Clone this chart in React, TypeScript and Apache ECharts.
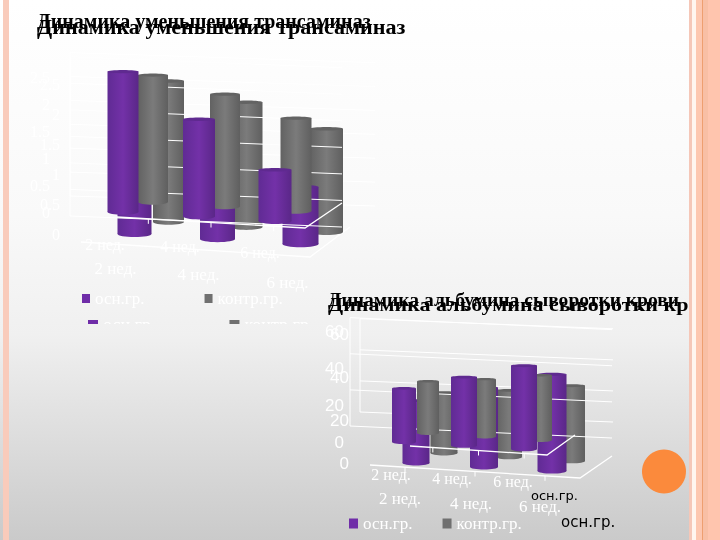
import React, { useEffect, useRef } from "react";
import * as echarts from "echarts";

const categories = ["2 нед.", "4 нед.", "6 нед."];
const seriesNames = ["осн.гр.", "контр.гр."];
const transOsn = [2.6, 1.8, 0.95];
const transKontr = [2.35, 2.08, 1.72];
const albOsn = [29, 37, 45];
const albKontr = [28, 31, 35];
const transTicks = [0, 0.5, 1, 1.5, 2, 2.5, 3];
const albTicks = [0, 20, 40, 60];
const titleTrans = "Динамика уменьшения трансаминаз";
const titleAlb = "Динамика альбумина сыворотки крови";

const SERIF = "'Liberation Serif', serif";
const SANS = "'Liberation Sans', sans-serif";

const purpleFill = () =>
  new echarts.graphic.LinearGradient(0, 0, 1, 0, [
    { offset: 0, color: "#602b94" },
    { offset: 0.5, color: "#7331a8" },
    { offset: 1, color: "#5a2788" },
  ]);
const grayFill = () =>
  new echarts.graphic.LinearGradient(0, 0, 1, 0, [
    { offset: 0, color: "#626262" },
    { offset: 0.5, color: "#7b7b7b" },
    { offset: 1, color: "#5f5f5f" },
  ]);

const copies = [
  {
    // chart 1, back copy
    grid: { left: 93, width: 249, bottom: 234, pxHeight: 180 }, max: 3, ticks: transTicks, interval: 0.5,
    osn: transOsn, kontr: transKontr, z: 3, slope: 5,
    osnW: [34, 35, 36], kontrW: [31, 32, 33], dx: [34, 29, 26], dy: -12,
    xFont: 17, xMargin: 26, xShift: [38, 38, 26], xDrop: [0, 6, 14],
    yFont: 16, yFamily: SERIF, yMargin: 33,
    wall: { x0: -23, y0: -18, x1: 249, y1: -7, scale: 0.885 },
    floor: [[24, -17], [212, -6], [249, -31]],
  },
  {
    // chart 1, front copy
    grid: { left: 85, width: 228, bottom: 212, pxHeight: 162 }, max: 3, ticks: transTicks, interval: 0.5,
    osn: transOsn, kontr: transKontr, z: 10, slope: 4.5,
    osnW: [31, 32, 33], kontrW: [30, 30, 31], dx: [30, 26, 21], dy: -10,
    xFont: 16, xMargin: 24, xShift: [36, 38, 30], xDrop: [0, 2, 8],
    yFont: 16, yFamily: SERIF, yMargin: 35,
    wall: { x0: -15, y0: -16, x1: 290, y1: -6, scale: 0.885 },
    floor: [[-4, 30], [225, 45], [265, 15]],
  },
  {
    // chart 2, back copy
    grid: { left: 382, width: 204, bottom: 463, pxHeight: 129 }, max: 60, ticks: albTicks, interval: 20,
    osn: albOsn, kontr: albKontr, z: 3, slope: 4,
    osnW: [27, 28, 29], kontrW: [27, 26, 26], dx: [28, 25, 20], dy: -10,
    xFont: 17, xMargin: 27, xShift: [32, 26, 24], xDrop: [0, 5, 8],
    yFont: 17, yFamily: SANS, yMargin: 33,
    wall: { x0: -32, y0: -37, x1: 230, y1: -25, scale: 0.84 },
    floor: [[28, -17], [165, -8], [193, -28]],
  },
  {
    // chart 2, front copy
    grid: { left: 374, width: 180, bottom: 442, pxHeight: 111 }, max: 60, ticks: albTicks, interval: 20,
    osn: albOsn, kontr: albKontr, z: 10, slope: 3.5,
    osnW: [24, 26, 26], kontrW: [22, 22, 22], dx: [24, 21, 17], dy: -9,
    xFont: 16, xMargin: 24, xShift: [26, 24, 22], xDrop: [0, 4, 7],
    yFont: 17, yFamily: SANS, yMargin: 30,
    wall: { x0: -14, y0: -30, x1: 239, y1: -20, scale: 0.84 },
    floor: [[-4, 23], [206, 36], [238, 14]],
  },
];

function cylinder(c: any, row: "osn" | "kontr") {
  return (_p: any, api: any) => {
    const i = api.value(0);
    const top = api.coord([i, api.value(1)]);
    const base = api.coord([i, 0]);
    const w = row === "osn" ? c.osnW[i] : c.kontrW[i];
    const dx = row === "osn" ? 0 : c.dx[i];
    const dy = (row === "osn" ? 0 : c.dy) + c.slope * i;
    const cx = base[0] + dx;
    const yTop = top[1] + dy;
    const yBase = base[1] + dy;
    const ry = w * 0.09;
    const fill = row === "osn" ? purpleFill() : grayFill();
    const lid = row === "osn" ? "#5f2a90" : "#636363";
    return {
      type: "group",
      children: [
        { type: "ellipse", shape: { cx, cy: yBase, rx: w / 2, ry }, style: { fill } },
        { type: "rect", shape: { x: cx - w / 2, y: yTop, width: w, height: yBase - yTop }, style: { fill } },
        { type: "ellipse", shape: { cx, cy: yTop, rx: w / 2, ry: ry * 0.6 }, style: { fill: lid } },
      ],
    };
  };
}

function wallItem(c: any) {
  return (_p: any, api: any) => {
    const left = c.grid.left;
    const bottom = c.grid.bottom;
    const base = api.coord([0, 0])[1];
    const children = c.ticks.map((t: number) => {
      const off = (api.coord([0, t])[1] - base) * c.wall.scale;
      return {
        type: "line",
        shape: {
          x1: left + c.wall.x0,
          y1: bottom + c.wall.y0 + off,
          x2: left + c.wall.x1,
          y2: bottom + c.wall.y1 + off,
        },
        style: { stroke: "#ffffff", lineWidth: 1 },
      };
    });
    const topOff = (api.coord([0, c.max])[1] - base) * c.wall.scale;
    children.push({
      type: "line",
      shape: {
        x1: left + c.wall.x0,
        y1: bottom + c.wall.y0,
        x2: left + c.wall.x0,
        y2: bottom + c.wall.y0 + topOff,
      },
      style: { stroke: "#ffffff", lineWidth: 1 },
    });
    return { type: "group", children };
  };
}

function floorItem(c: any) {
  return () => {
    const pts = c.floor.map((p: number[]) => [c.grid.left + p[0], c.grid.bottom + p[1]]);
    const children: any[] = [
      { type: "polyline", shape: { points: pts }, style: { stroke: "#ffffff", fill: "none", lineWidth: 1.3 } },
    ];
    [1 / 6, 1 / 2, 5 / 6].forEach((f) => {
      const x = pts[0][0] + (pts[1][0] - pts[0][0]) * f;
      const y = pts[0][1] + (pts[1][1] - pts[0][1]) * f;
      children.push({ type: "line", shape: { x1: x, y1: y, x2: x, y2: y + 5 }, style: { stroke: "#ffffff", lineWidth: 1 } });
    });
    return { type: "group", children };
  };
}

const bg = () =>
  new echarts.graphic.LinearGradient(
    0, 0, 0, 540,
    [
      { offset: 0, color: "#ffffff" },
      { offset: 0.4, color: "#f9f9f9" },
      { offset: 0.62, color: "#f0f0f0" },
      { offset: 1, color: "#cacaca" },
    ],
    true
  );

function buildOption() {
  const grid = copies.map((c) => ({
    left: c.grid.left,
    width: c.grid.width,
    top: c.grid.bottom - c.grid.pxHeight,
    height: c.grid.pxHeight,
  }));
  const xAxis = copies.map((c, g) => ({
    type: "category",
    gridIndex: g,
    data: categories.map((name, i) => ({
      value: name,
      textStyle: { padding: [c.xDrop[i], c.xShift[i], 0, 0] },
    })),
    axisLine: { show: false },
    axisTick: { show: false },
    splitLine: { show: false },
    axisLabel: { color: "#ffffff", fontFamily: SERIF, fontSize: c.xFont, margin: c.xMargin, interval: 0 },
  }));
  const yAxis = copies.map((c, g) => ({
    type: "value",
    gridIndex: g,
    min: 0,
    max: c.max,
    interval: c.interval,
    axisLine: { show: false },
    axisTick: { show: false },
    splitLine: { show: false },
    axisLabel: {
      color: "#ffffff",
      fontFamily: c.yFamily,
      fontSize: c.yFont,
      margin: c.yMargin,
      formatter: (v: number) => (v === c.max && c.max === 3 ? "" : String(v)),
    },
  }));
  const series: any[] = [];
  copies.forEach((c, g) => {
    const axes = { xAxisIndex: g, yAxisIndex: g, coordinateSystem: "cartesian2d" };
    const wall = { type: "custom", ...axes, silent: true, data: [[0, 0]], renderItem: wallItem(c), clip: false, name: "сетка" };
    const floor = { type: "custom", ...axes, silent: true, data: [[0, 0]], renderItem: floorItem(c), clip: false, name: "основание" };
    const kontr = {
      type: "custom", ...axes, name: seriesNames[1], itemStyle: { color: "#707070" }, clip: false,
      data: c.kontr.map((v, i) => [i, v]), renderItem: cylinder(c, "kontr"), encode: { x: 0, y: 1 },
    };
    const osn = {
      type: "custom", ...axes, name: seriesNames[0], itemStyle: { color: "#6f2da8" }, clip: false,
      data: c.osn.map((v, i) => [i, v]), renderItem: cylinder(c, "osn"), encode: { x: 0, y: 1 },
    };
    if (c.z === 3) {
      series.push({ ...kontr, z: 3 }, { ...osn, z: 4 }, { ...wall, z: 5 }, { ...floor, z: 6 });
    } else {
      series.push({ ...wall, z: 1 }, { ...floor, z: 1 }, { ...kontr, z: 10 }, { ...osn, z: 11 });
    }
  });
  const legendBase = { orient: "horizontal", icon: "rect", selectedMode: false, data: seriesNames };
  const legend = [
    { ...legendBase, left: 77, top: 285, itemWidth: 8, itemHeight: 9, itemGap: 60, z: 20, textStyle: { color: "#ffffff", fontFamily: SERIF, fontSize: 17 } },
    { ...legendBase, left: 83, top: 311, itemWidth: 10, itemHeight: 10, itemGap: 74, z: 20, textStyle: { color: "#ffffff", fontFamily: SERIF, fontSize: 18 } },
    { ...legendBase, left: 344, top: 510, itemWidth: 9, itemHeight: 10, itemGap: 30, z: 20, textStyle: { color: "#ffffff", fontFamily: SERIF, fontSize: 17 } },
  ];
  const stripe = (x: number, width: number, fill: string) => ({
    type: "rect", z: 101, silent: true, shape: { x, y: 0, width, height: 540 }, style: { fill },
  });
  const title = (text: string, x: number, y: number, size: number, scaleX: number) => ({
    type: "text", z: 90, silent: true, x, y, scaleX,
    style: { text, fontFamily: SERIF, fontWeight: "bold", fontSize: size, fill: "#000000", textVerticalAlign: "middle" },
  });
  const note = (text: string, x: number, y: number, size: number) => ({
    type: "text", z: 90, silent: true, x, y,
    style: { text, fontFamily: "'DejaVu Sans', sans-serif", fontSize: size, fill: "#000000", textVerticalAlign: "middle" },
  });
  const graphic = [
    { type: "rect", z: -10, silent: true, shape: { x: 0, y: 0, width: 720, height: 540 }, style: { fill: bg() } },
    { type: "rect", z: 50, silent: true, shape: { x: 70, y: 324, width: 250, height: 20 }, style: { fill: bg() } },
    title(titleTrans, 37, 21, 20, 1.0),
    title(titleTrans, 37, 27, 20, 1.105),
    title(titleAlb, 328, 300, 19, 1.03),
    title(titleAlb, 328, 305, 19, 1.16),
    note(seriesNames[0], 531, 495, 13),
    note(seriesNames[0], 561, 522, 15),
    stripe(3, 6, "#f9cbbb"),
    stripe(689, 3, "#f5c7b8"),
    stripe(692, 4, "#fff5ef"),
    stripe(696, 6, "#fdc7b0"),
    stripe(702, 1, "#ee9f70"),
    stripe(703, 5, "#f8bfa5"),
    stripe(708, 12, "#ffc5ae"),
    { type: "circle", z: 101, silent: true, shape: { cx: 664, cy: 471.5, r: 22 }, style: { fill: "#fb8a3c" } },
  ];
  return { animation: false, grid, xAxis, yAxis, series, legend, graphic };
}

export default function App() {
  const ref = useRef<HTMLDivElement>(null);
  useEffect(() => {
    const chart = echarts.init(ref.current!, undefined, { renderer: "svg" });
    chart.setOption(buildOption() as any);
    return () => chart.dispose();
  }, []);
  return <div ref={ref} style={{ position: "fixed", left: 0, top: 0, width: 720, height: 540 }} />;
}
